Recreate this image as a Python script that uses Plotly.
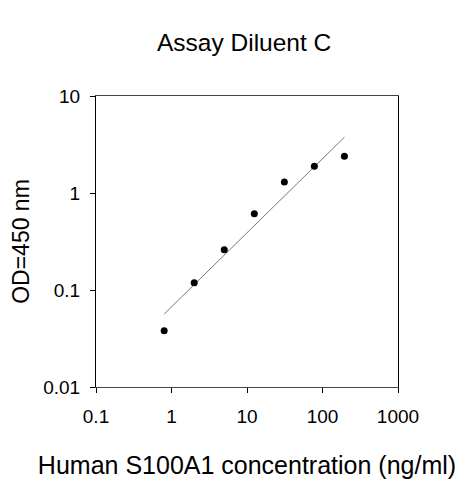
import plotly.graph_objects as go

# standard curve readings
conc = [0.8, 2.0, 5.0, 12.5, 31.25, 78.0, 195.0]
od = [0.038, 0.119, 0.26, 0.61, 1.30, 1.89, 2.39]

# fitted line end points
fit_x = [0.8, 195.0]
fit_y = [0.0565, 3.76]

x_ticks = [0.1, 1, 10, 100, 1000]
x_labels = ["0.1", "1", "10", "100", "1000"]
y_ticks = [0.01, 0.1, 1, 10]
y_labels = ["0.01", "0.1", "1", "10"]

font = "Liberation Sans, Arial, sans-serif"

fig = go.Figure()
fig.add_trace(go.Scatter(x=fit_x, y=fit_y, mode="lines",
                         line=dict(color="#777777", width=1), hoverinfo="skip"))
fig.add_trace(go.Scatter(x=conc, y=od, mode="markers",
                         marker=dict(color="black", size=7)))

fig.update_layout(
    width=463, height=480,
    margin=dict(l=88, r=73, t=88, b=101),
    paper_bgcolor="white", plot_bgcolor="white",
    showlegend=False,
    font=dict(family=font, size=19, color="black"),
    title=dict(text="Assay Diluent C", x=0.51, xanchor="center",
               y=0.929, yanchor="middle", font=dict(size=24.5)),
    xaxis=dict(type="log", range=[-1, 3], tickvals=x_ticks, ticktext=x_labels,
               ticks="outside", ticklen=5, tickcolor="black", showgrid=False,
               zeroline=False, showline=True, linecolor="#444444", linewidth=1,
               mirror=True, ticklabelstandoff=7, automargin=False,
               title=dict(text="Human S100A1 concentration (ng/ml)",
                          font=dict(size=25), standoff=30)),
    yaxis=dict(type="log", range=[-2, 1], tickvals=y_ticks, ticktext=y_labels,
               ticks="outside", ticklen=5, tickcolor="black", showgrid=False,
               zeroline=False, showline=True, linecolor="black", linewidth=1,
               mirror=True, ticklabelstandoff=6, automargin=False,
               title=dict(text="OD=450 nm", font=dict(size=23), standoff=18)),
)

fig.write_html("out.html")
